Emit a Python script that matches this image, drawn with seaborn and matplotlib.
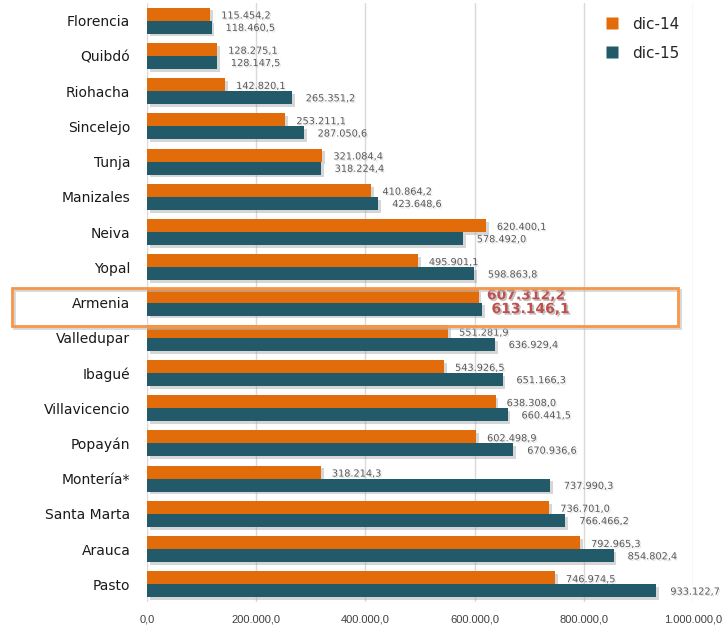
import matplotlib
matplotlib.use("Agg")
import matplotlib.pyplot as plt
import matplotlib.patheffects as pe
from matplotlib.patches import Rectangle
from matplotlib.lines import Line2D
import seaborn as sns
import pandas as pd

cities = ["Florencia", "Quibdó", "Riohacha", "Sincelejo", "Tunja", "Manizales", "Neiva",
          "Yopal", "Armenia", "Valledupar", "Ibagué", "Villavicencio", "Popayán", "Montería*",
          "Santa Marta", "Arauca", "Pasto"]
dic14 = [115454.2, 128275.1, 142820.1, 253211.1, 321084.4, 410864.2, 620400.1,
         495901.1, 607312.2, 551281.9, 543926.5, 638308.0, 602498.9, 318214.3,
         736701.0, 792965.3, 746974.5]
dic15 = [118460.5, 128147.5, 265351.2, 287050.6, 318224.4, 423648.6, 578492.0,
         598863.8, 613146.1, 636929.4, 651166.3, 660441.5, 670936.6, 737990.3,
         766466.2, 854802.4, 933122.7]
series = ["dic-14", "dic-15"]
xticks = [0, 200000, 400000, 600000, 800000, 1000000]
highlight = "Armenia"

colors = ["#E36C0A", "#235A69"]

df = pd.DataFrame({
    "city": cities * 2,
    "value": dic14 + dic15,
    "serie": [series[0]] * len(cities) + [series[1]] * len(cities),
})

def fmt(v):
    s = f"{v:,.1f}"
    return s.replace(",", "X").replace(".", ",").replace("X", ".")

sns.set_style("white")
plt.rcParams["font.family"] = ["DejaVu Sans"]

fig = plt.figure(figsize=(7.25, 6.35), dpi=100)
ax = fig.add_axes([147 / 725, 1 - 602 / 635, 546 / 725, 599 / 635])

sns.barplot(data=df, x="value", y="city", hue="serie", order=cities, hue_order=series,
            palette=colors, orient="h", width=0.74, ax=ax, legend=False, saturation=1)

shadow = [pe.SimplePatchShadow(offset=(2, -2), shadow_rgbFace="#999999", alpha=0.4), pe.Normal()]
for cont in ax.containers:
    for bar in cont:
        bar.set_path_effects(shadow)
        bar.set_edgecolor("none")

txt_shadow = [pe.SimplePatchShadow(offset=(1, -1), shadow_rgbFace="#BBBBBB", alpha=0.4), pe.Normal()]
hi_shadow = [pe.SimplePatchShadow(offset=(1.2, -1.2), shadow_rgbFace="#999999", alpha=0.6), pe.Normal()]
hi_idx = cities.index(highlight)
for ci, cont in enumerate(ax.containers):
    vals = dic14 if ci == 0 else dic15
    for i, bar in enumerate(cont):
        y = bar.get_y() + bar.get_height() / 2
        x = bar.get_width()
        if i == hi_idx:
            ax.annotate(fmt(vals[i]), (x, y), xytext=(6 + ci * 1, 0.5 - ci * 0.5), textcoords="offset points",
                        va="center", ha="left", fontsize=10, fontweight="bold", color="#C0504D",
                        path_effects=hi_shadow)
        else:
            ax.annotate(fmt(vals[i]), (x, y), xytext=(8 + ci * 2, -1 + ci * 0.5), textcoords="offset points",
                        va="center", ha="left", fontsize=7, color="#595959",
                        path_effects=txt_shadow)

ax.set_xlim(0, 1000000)
ax.set_ylim(16.5, -0.5)
ax.set_xticks(xticks)
ax.set_xticklabels([fmt(v) for v in xticks], fontsize=8, color="#404040",
                   family=["Liberation Sans", "DejaVu Sans"])
ax.tick_params(axis="x", length=0, pad=9)
ax.tick_params(axis="y", length=0, pad=12, labelsize=10, labelcolor="#1a1a1a")
ax.set_xlabel("")
ax.set_ylabel("")
ax.grid(axis="x", color="#D9D9D9", linewidth=1)
ax.set_axisbelow(True)
for s in ax.spines.values():
    s.set_visible(False)

handles = [Line2D([0], [0], marker="s", linestyle="none", markersize=8, markerfacecolor=c,
                  markeredgecolor="none") for c in colors]
ax.legend(handles, series, loc="upper right", bbox_to_anchor=(1.0, 1.0), frameon=False,
          fontsize=11, handletextpad=0.3, labelspacing=0.9)

rect_sh = Rectangle((14, 635 - 328), 666, 38, transform=None, fill=False, edgecolor="#BBBBBB",
                    linewidth=2, alpha=0.6)
rect = Rectangle((12, 635 - 326), 666, 38, transform=None, fill=False, edgecolor="#F79646",
                 linewidth=2)
fig.patches.append(rect_sh)
fig.patches.append(rect)

fig.savefig("out.png", dpi=100)
